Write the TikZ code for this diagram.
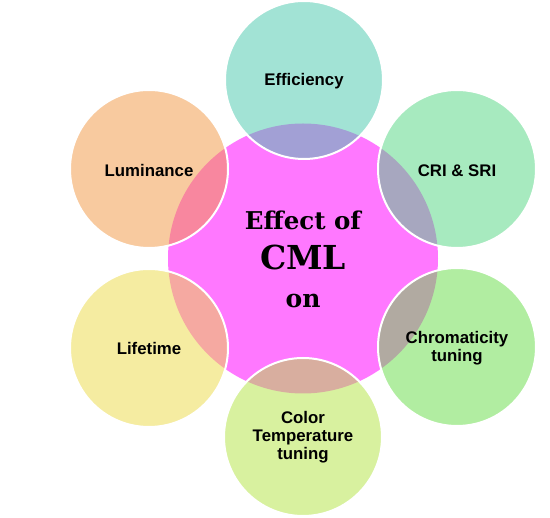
\documentclass[tikz,border=0pt]{standalone}
\usepackage{fontspec}
\setmainfont{Liberation Sans}
\newfontfamily\titlefont{DejaVu Serif}
\definecolor{magentaC}{RGB}{255,120,255}
\definecolor{cEff}{RGB}{71,201,173}
\definecolor{cLum}{RGB}{243,151,65}
\definecolor{cCri}{RGB}{81,215,129}
\definecolor{cChr}{RGB}{101,221,69}
\definecolor{cTmp}{RGB}{179,229,65}
\definecolor{cLif}{RGB}{237,219,69}
\begin{document}
\begin{tikzpicture}[x=1pt,y=-1pt,
  bubble/.style={circle, minimum size=158pt, inner sep=0pt, draw=white,
    line width=2pt, fill opacity=0.5},
  hub/.style={circle, minimum size=270pt, inner sep=0pt, fill=magentaC},
  lbl/.style={inner sep=0pt, align=center,
    font=\bfseries\fontsize{16.8}{18}\selectfont},
  titletext/.style={anchor=base, inner sep=0pt}]
\useasboundingbox (0,0) rectangle (550,518);
\fill[white] (0,0) rectangle (550,518);
% central disc
\node[hub] (hub) at (303,258.5) {};
% surrounding circles
\node[bubble, fill=cEff] (eff) at (304,80) {};
\node[bubble, fill=cCri] (cri) at (457,169) {};
\node[bubble, fill=cChr] (chr) at (457,347) {};
\node[bubble, fill=cTmp] (tmp) at (303,437) {};
\node[bubble, fill=cLif] (lif) at (149,348) {};
\node[bubble, fill=cLum] (lum) at (149,169) {};
% labels
\node[lbl] (effL) at ([yshift=-1.5pt]eff.center) {Efficiency};
\node[lbl] (criL) at ([yshift=-1.5pt]cri.center) {CRI \& SRI};
\node[lbl] (chrL) at ([yshift=-1.5pt]chr.center) {Chromaticity\\tuning};
\node[lbl] (tmpL) at ([yshift=-0.5pt]tmp.center) {Color\\Temperature\\tuning};
\node[lbl] (lifL) at ([yshift=-0.5pt]lif.center) {Lifetime};
\node[lbl] (lumL) at ([yshift=-1.5pt]lum.center) {Luminance};
% title
\node[titletext, font=\titlefont\bfseries\fontsize{24.5}{26}\selectfont] (t1) at (303,230) {Effect of};
\node[titletext, font=\titlefont\bfseries\fontsize{33}{35}\selectfont] (t2) at (303,270) {CML};
\node[titletext, font=\titlefont\bfseries\fontsize{25}{27}\selectfont] (t3) at (303,308) {on};
\end{tikzpicture}
\end{document}
